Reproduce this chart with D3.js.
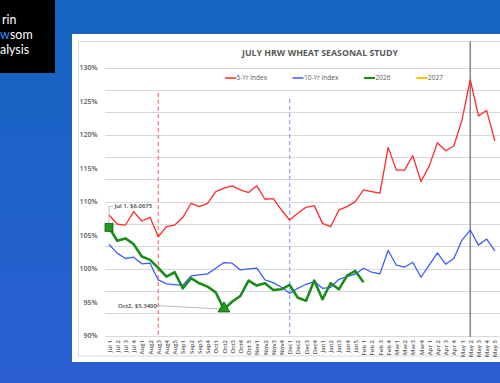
<!DOCTYPE html>
<html lang="en">
<head>
<meta charset="UTF-8">
<title>July HRW Wheat Seasonal Study</title>
<style>
  body { margin: 0; overflow: hidden; }
  svg text { font-family: "Open Sans", "Liberation Sans", sans-serif; }
  svg .logo text { font-family: Lato, "Open Sans", sans-serif; }
  .grid line { stroke: #d9d9d9; stroke-width: 1; shape-rendering: crispEdges; }
  .axis path, .axis line { display: none; }
  .axis text { fill: #595959; }
</style>
</head>
<body>
<div id="sv"></div>
<script src="https://d3js.org/d3.v7.min.js"></script>
<script>
// week labels along the x axis
var weeks = ["Jul 1","Jul 2","Jul 3","Jul 4","Aug1","Aug2","Aug3","Aug4","Aug5",
  "Sep1","Sep2","Sep3","Sep4","Oct1","Oct2","Oct3","Oct4","Oct 5",
  "Nov1","Nov2","Nov3","Nov4","Dec1","Dec2","Dec3","Dec4",
  "Jan1","Jan2","Jan3","Jan4","Jan5","Feb 1","Feb 2","Feb 3","Feb 4",
  "Mar1","Mar2","Mar3","Mar4","Apr 1","Apr 2","Apr 3","Apr 4",
  "May 1","May 2","May 3","May 4","May 5"];

var fiveYr = [108.0,106.65,106.5,108.5,107.1,107.65,104.75,106.25,106.5,107.65,
  109.75,109.25,109.75,111.5,112.0,112.35,111.75,111.35,112.35,110.35,110.45,108.75,
  107.25,108.25,109.15,109.4,106.75,106.25,108.75,109.25,110.0,111.75,111.5,111.25,
  118.1,114.7,114.7,116.85,113.0,115.3,118.8,117.6,118.3,122.2,128.2,122.8,123.6,119.05];

var tenYr = [103.6,102.3,101.5,101.7,100.7,100.8,98.3,97.7,97.6,97.5,
  98.9,99.05,99.2,100.05,100.9,100.8,99.8,99.95,100.05,98.3,97.9,97.2,
  96.3,97.05,97.65,98.05,97.05,97.2,98.4,98.8,99.15,100.05,99.45,99.2,
  102.7,100.5,100.2,100.95,98.7,100.5,102.35,100.65,101.5,104.25,105.75,103.5,104.4,102.65];

var yr2026 = [106.15,104.15,104.5,103.65,101.8,101.3,100.1,98.8,99.45,97.05,
  98.55,97.8,97.3,96.45,93.95,95.05,95.9,98.2,97.45,97.8,96.8,96.9,
  97.55,95.65,95.2,98.2,95.4,97.8,96.9,98.95,99.65,97.95];

var yLabels = [90,95,100,105,110,115,120,125,130];
var gridCount = 12;

var seriesNames = ["5-Yr Index","10-Yr Index","2026","2027"];
var seriesColors = ["#ff2a2a","#3b5cff","#1a8c1a","#ffc000"];

// marked weeks: red dash, blue dash, black solid
var markWeeks = ["Aug3","Dec1","May 2"];

var W = 500, H = 383;

var svg = d3.select("#sv").append("svg")
  .attr("width", W).attr("height", H);

var defs = svg.append("defs");
var grad = defs.append("linearGradient").attr("id","bg")
  .attr("x1",0).attr("y1",0).attr("x2",0).attr("y2",1);
grad.append("stop").attr("offset","0%").attr("stop-color","#1464c0");
grad.append("stop").attr("offset","100%").attr("stop-color","#2c5fd3");

svg.append("rect").attr("width",W).attr("height",H).attr("fill","url(#bg)");

// logo box (only the visible part of the words shows)
svg.append("rect").attr("x",0).attr("y",0).attr("width",55).attr("height",73).attr("fill","#000");
var logo = svg.append("g").attr("class","logo").attr("font-size",12.4).attr("fill","#fff");
logo.append("text").attr("x",2).attr("y",24).text("rin");
logo.append("text").attr("x",0).attr("y",39).attr("fill","#2a8cff").text("w");
logo.append("text").attr("x",10).attr("y",39).text("som");
logo.append("text").attr("x",0).attr("y",54).text("alysis");

// white chart panel
svg.append("rect").attr("x",72).attr("y",34).attr("width",440).attr("height",328).attr("fill","#fff");
svg.append("rect").attr("x",78.5).attr("y",41.5).attr("width",430).attr("height",314.5)
  .attr("fill","none").attr("stroke","#d9d9d9");

var x = d3.scalePoint().domain(weeks).range([109, 109 + 47 * 8.21]);
var y = d3.scaleLinear().domain([90,130]).range([335.5, 67.7]);

// gridlines
var gridVals = d3.range(gridCount + 1).map(function(i){ return 90 + i * 40 / gridCount; });
svg.append("g").attr("class","grid").selectAll("line").data(gridVals).enter().append("line")
  .attr("x1",105).attr("x2",W)
  .attr("y1", function(d){ return Math.round(y(d)) + 0.5; })
  .attr("y2", function(d){ return Math.round(y(d)) + 0.5; });

// y axis labels
var yAxis = d3.axisLeft(y).tickValues(yLabels).tickFormat(function(d){ return d + "%"; }).tickSize(0).tickPadding(0);
svg.append("g").attr("class","axis").attr("transform","translate(97.5,0)").call(yAxis)
  .selectAll("text").attr("font-size",7).attr("font-weight",600);

// x axis labels
var xAxis = d3.axisBottom(x).tickSize(0).tickPadding(0);
svg.append("g").attr("class","axis").attr("transform","translate(0,340)").call(xAxis)
  .selectAll("text")
  .attr("font-size",6).attr("font-weight",600)
  .attr("transform","rotate(-90)")
  .attr("text-anchor","end")
  .attr("dx",0).attr("dy","0.35em").attr("x",0).attr("y",0);

// title
svg.append("text").attr("x",320).attr("y",56).attr("text-anchor","middle")
  .attr("font-size",8.8).attr("font-weight",700).attr("fill","#595959")
  .text("JULY HRW WHEAT SEASONAL STUDY");

// legend
var legX = [225, 292.5, 364, 416.5];
var leg = svg.append("g").selectAll("g").data(seriesNames).enter().append("g")
  .attr("transform", function(d,i){ return "translate(" + legX[i] + ",78)"; });
leg.append("line").attr("x1",0).attr("x2",11).attr("y1",0).attr("y2",0)
  .attr("stroke", function(d,i){ return seriesColors[i]; })
  .attr("stroke-width", function(d,i){ return i >= 2 ? 2 : 1.5; });
leg.append("text").attr("x",11.5).attr("y",2.4).attr("font-size",6.5).attr("fill","#595959").text(function(d){ return d; });

// vertical marker lines
var vl = svg.append("g");
vl.append("line").attr("x1",x(markWeeks[0])).attr("x2",x(markWeeks[0])).attr("y1",93).attr("y2",336)
  .attr("stroke","#ff5a5a").attr("stroke-dasharray","4,3").attr("stroke-width",1);
vl.append("line").attr("x1",x(markWeeks[1])).attr("x2",x(markWeeks[1])).attr("y1",99).attr("y2",337)
  .attr("stroke","#8ea2ff").attr("stroke-dasharray","4,3").attr("stroke-width",1.2);
vl.append("line").attr("x1",x(markWeeks[2])).attr("x2",x(markWeeks[2])).attr("y1",41.5).attr("y2",337)
  .attr("stroke","#6b6b6b").attr("stroke-width",1.2);

var line = d3.line()
  .x(function(d,i){ return x(weeks[i]); })
  .y(function(d){ return y(d); });

svg.append("path").datum(tenYr).attr("d",line).attr("fill","none")
  .attr("stroke",seriesColors[1]).attr("stroke-width",1.3).attr("stroke-linejoin","round");
svg.append("path").datum(fiveYr).attr("d",line).attr("fill","none")
  .attr("stroke",seriesColors[0]).attr("stroke-width",1.3).attr("stroke-linejoin","round");
svg.append("path").datum(yr2026).attr("d",line).attr("fill","none")
  .attr("stroke",seriesColors[2]).attr("stroke-width",2.6).attr("stroke-linejoin","round");

// markers: first week high, low point
var hiI = 0, loI = yr2026.indexOf(d3.min(yr2026));
var hx = x(weeks[hiI]), hy = y(yr2026[hiI]);
var lx = x(weeks[loI]), ly = y(yr2026[loI]);

// data labels with leader lines
var ann = svg.append("g").attr("font-size",6).attr("font-weight",600).attr("fill","#404040");
ann.append("polyline").attr("points",[[hx,hy-4],[hx,hy-21],[hx+4,hy-21]].join(" "))
  .attr("fill","none").attr("stroke","#a6a6a6").attr("stroke-width",0.8);
ann.append("text").attr("x",hx+5.5).attr("y",hy-19).text("Jul 1, $6.0675");
ann.append("line").attr("x1",156).attr("y1",ly-3.5).attr("x2",lx-3).attr("y2",ly)
  .attr("stroke","#a6a6a6").attr("stroke-width",0.8);
ann.append("text").attr("x",118).attr("y",ly-1.4).text("Oct2, $5.3400");

svg.append("rect").attr("x",hx-4).attr("y",hy-4).attr("width",8).attr("height",8)
  .attr("fill","#1e9a1e").attr("stroke","#106010").attr("stroke-width",0.8);
svg.append("path").attr("d", d3.symbol(d3.symbolTriangle, 60)())
  .attr("transform","translate(" + lx + "," + (ly - 0.5) + ")")
  .attr("fill","#1e9a1e").attr("stroke","#106010").attr("stroke-width",0.8);
</script>
</body>
</html>
